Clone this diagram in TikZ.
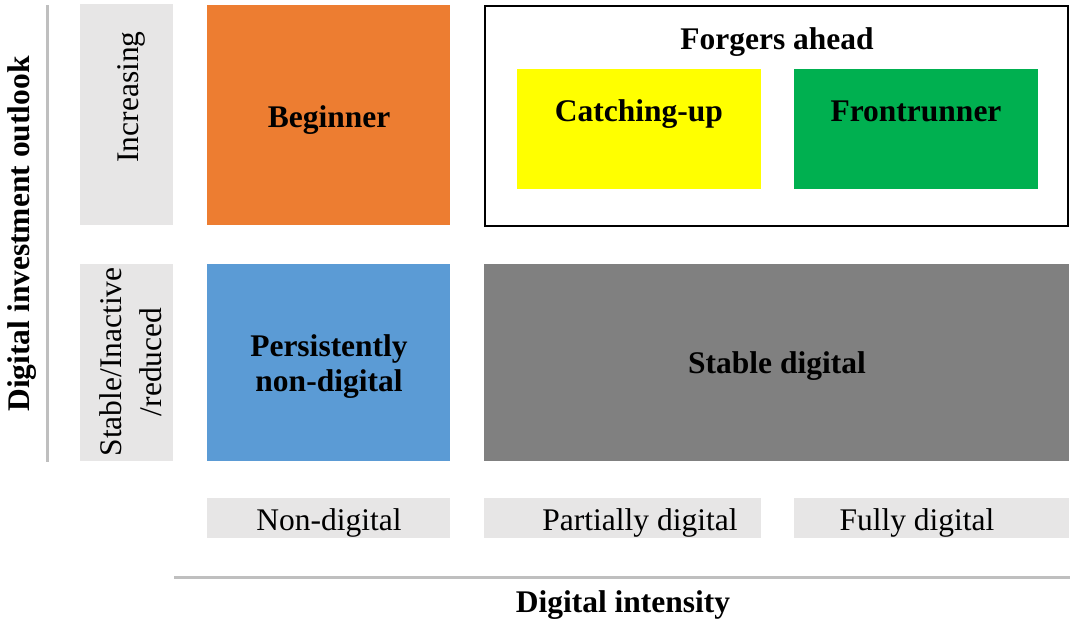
\documentclass[tikz,border=0pt]{standalone}
\usepackage{fontspec}
\setmainfont{Liberation Serif}
\definecolor{cOrange}{HTML}{ED7D31}
\definecolor{cYellow}{HTML}{FFFF00}
\definecolor{cGreen}{HTML}{00B050}
\definecolor{cBlue}{HTML}{5B9BD5}
\definecolor{cGray}{HTML}{808080}
\definecolor{cLight}{HTML}{E7E6E6}
\definecolor{cAxis}{HTML}{BFBFBF}
\begin{document}
\begin{tikzpicture}[x=1pt,y=-1pt,
  box/.style={draw=none,inner sep=0pt,outer sep=0pt},
  blbl/.style={font=\fontsize{31.5}{35}\selectfont\bfseries,anchor=base,align=center,inner sep=0pt},
  rlbl/.style={font=\fontsize{31.5}{40}\selectfont,anchor=base,align=center,inner sep=0pt},
  axisline/.style={draw=cAxis,line width=3pt}
]
\useasboundingbox (0,0) rectangle (1070,619);
\fill[white] (0,0) rectangle (1070,619);

% axes
\draw[axisline] (47,5) -- (47,462);
\draw[axisline] (174,577) -- (1070,577);

% row headers
\fill[cLight] (80,4) rectangle (173,225);
\fill[cLight] (80,264) rectangle (173,461);
\node[rlbl,rotate=90] (inc) at (138,97) {Increasing};
\node[rlbl,rotate=90] (stab) at (161,362) {Stable/Inactive\\/reduced};
\node[blbl,rotate=90] (yax) at (29,234) {Digital investment outlook};

% column headers
\fill[cLight] (207,498) rectangle (450,538);
\fill[cLight] (484,498) rectangle (761,538);
\fill[cLight] (794,498) rectangle (1069,538);
\node[rlbl] (nd) at (329,530) {Non-digital};
\node[rlbl] (pd) at (640,530) {Partially digital};
\node[rlbl] (fd) at (917,530) {Fully digital};
\node[blbl] (xax) at (623,612) {Digital intensity};

% quadrants
\fill[cOrange] (207,5) rectangle (450,225);
\node[blbl] (beg) at (329,127) {Beginner};

\draw[black,line width=2pt] (485,6) rectangle (1068,226);
\node[blbl] (forg) at (777,49) {Forgers ahead};

\fill[cYellow] (517,69) rectangle (761,189);
\node[blbl] (catch) at (639,121) {Catching-up};
\fill[cGreen] (794,69) rectangle (1038,189);
\node[blbl] (front) at (916,121) {Frontrunner};

\fill[cBlue] (207,264) rectangle (450,461);
\node[blbl] (pers) at (329,391) {Persistently\\non-digital};

\fill[cGray] (484,264) rectangle (1069,461);
\node[blbl] (sdig) at (777,373) {Stable digital};
\end{tikzpicture}
\end{document}
